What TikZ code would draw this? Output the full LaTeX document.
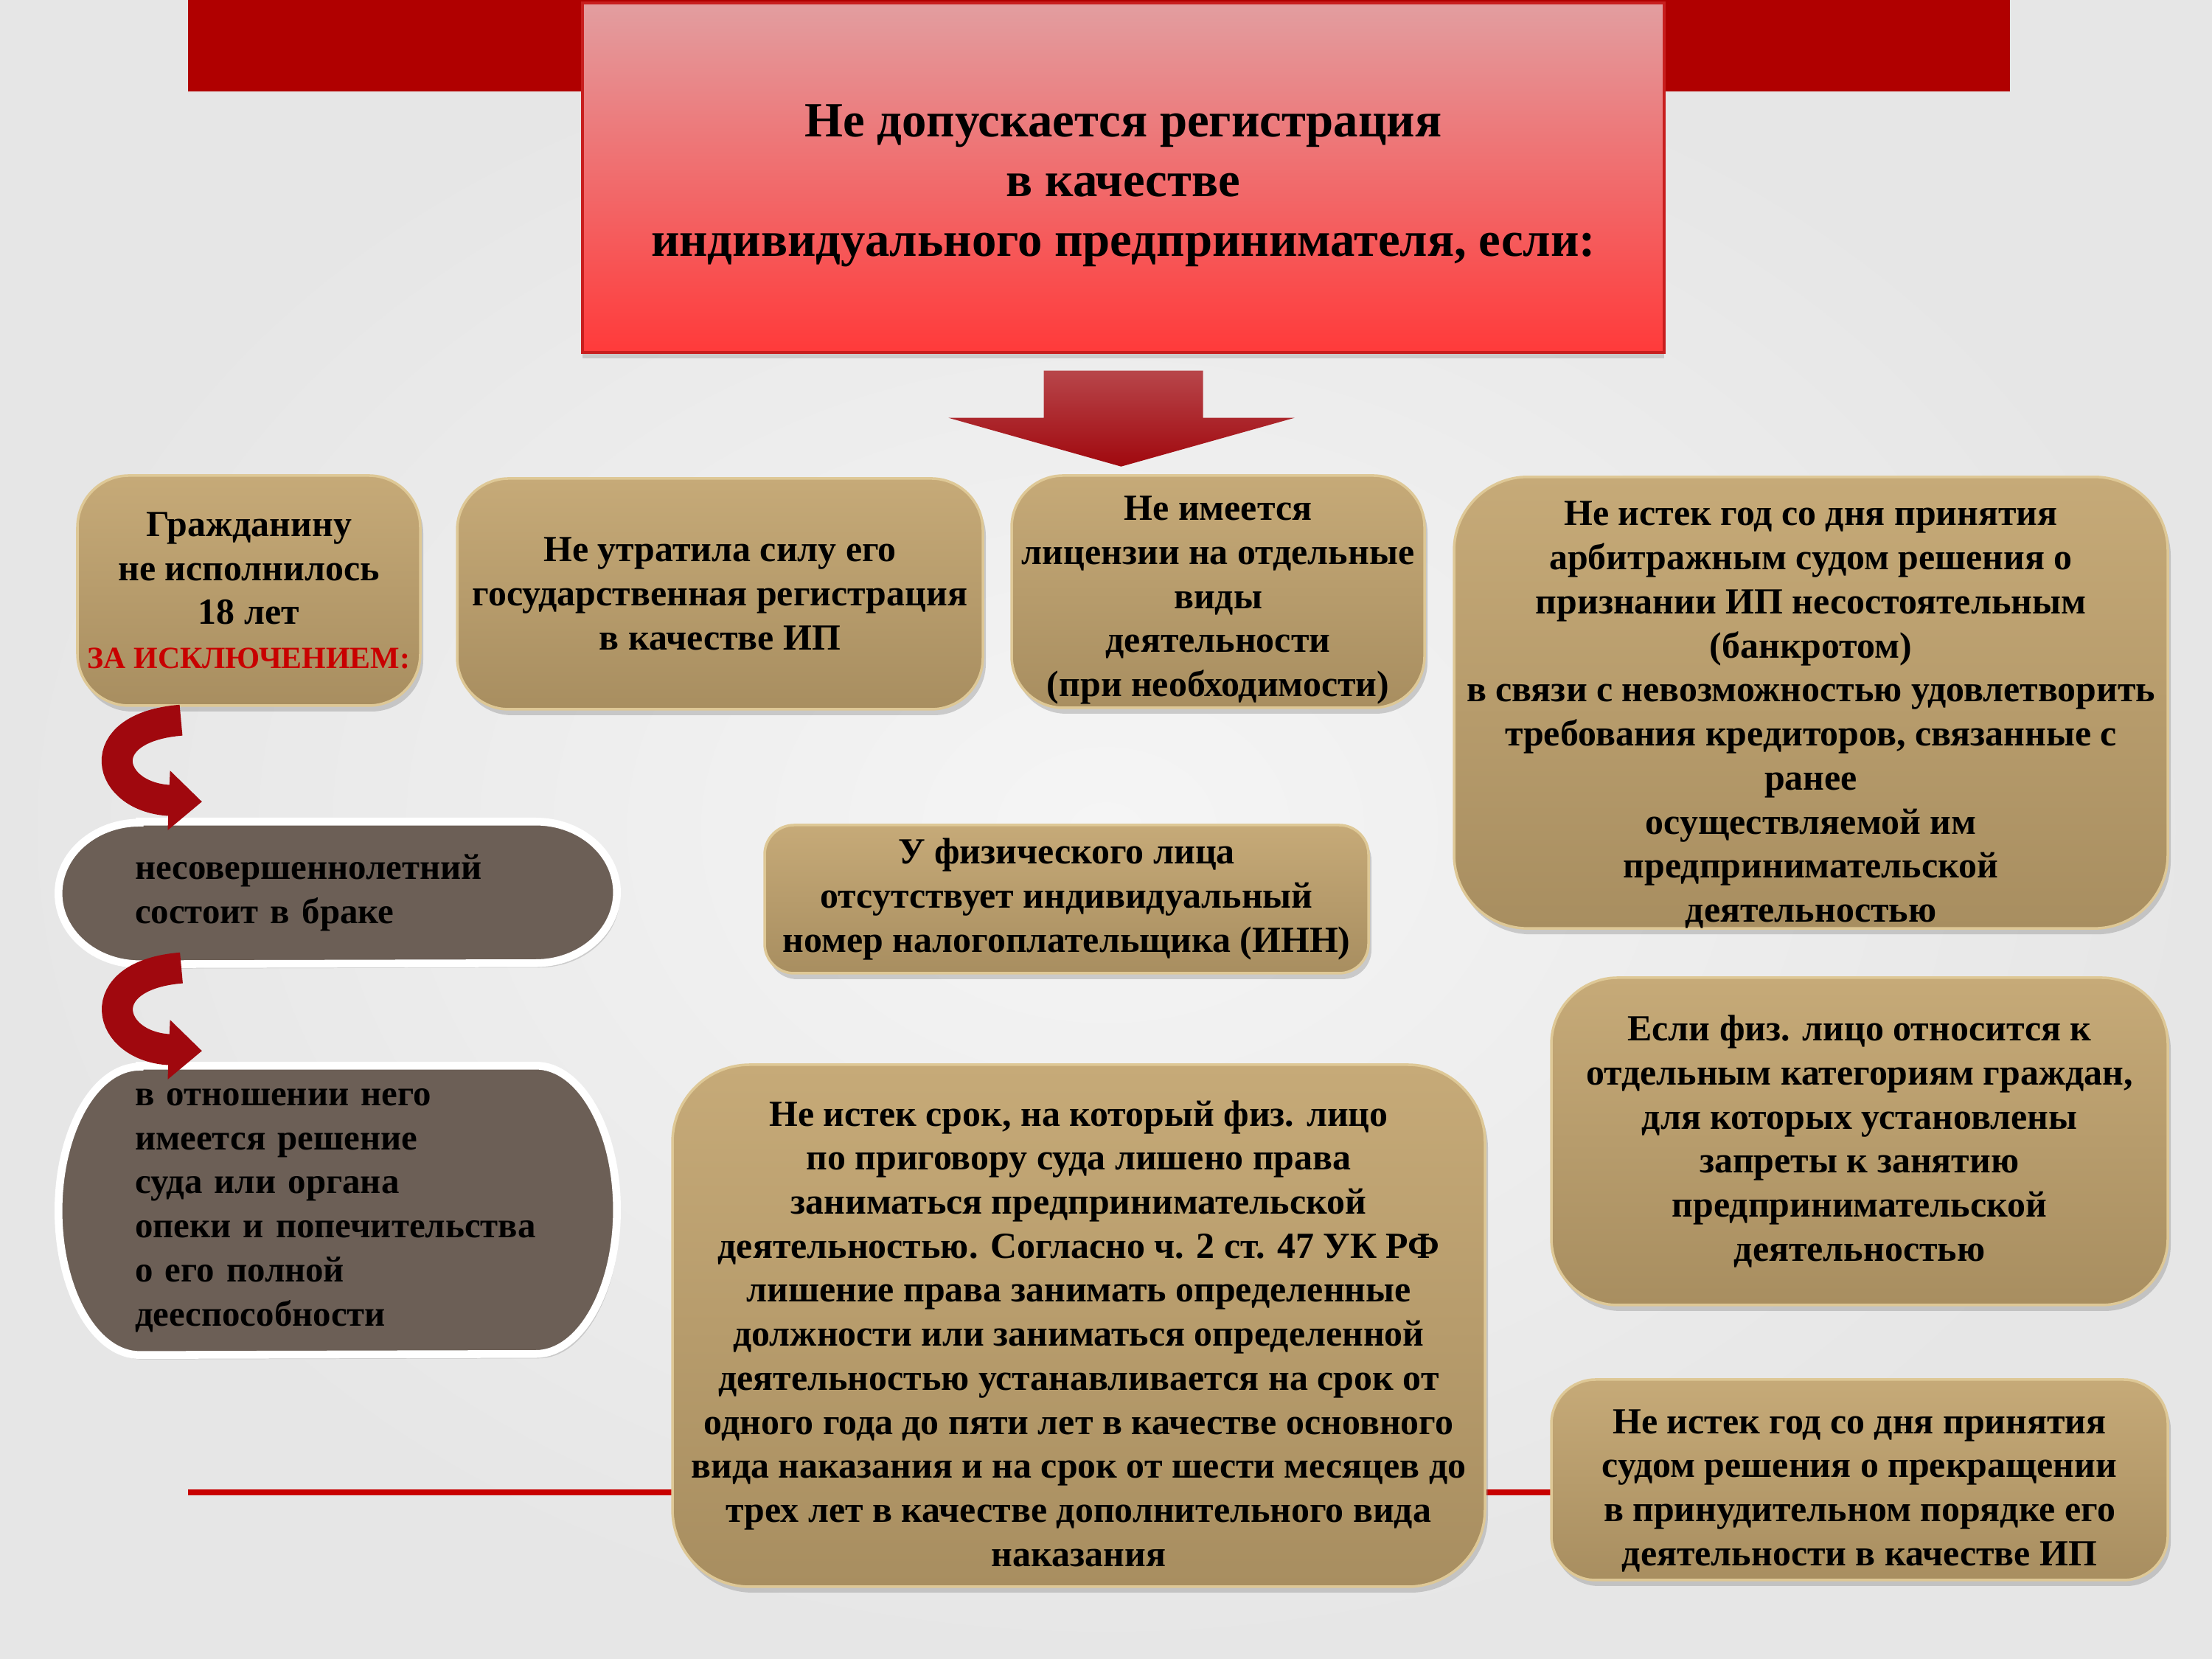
\documentclass[tikz,border=0pt]{standalone}
\usepackage{fontspec}
\setmainfont{Liberation Serif}
\usetikzlibrary{arrows.meta,shadows,backgrounds}

\definecolor{barred}{RGB}{176,0,0}
\definecolor{titletop}{RGB}{226,158,160}
\definecolor{titlebot}{RGB}{255,58,58}
\definecolor{titleedge}{RGB}{200,30,30}
\definecolor{goldtop}{RGB}{198,170,120}
\definecolor{goldbot}{RGB}{168,142,96}
\definecolor{goldedge}{RGB}{222,200,150}
\definecolor{greyfill}{RGB}{108,95,86}
\definecolor{curlred}{RGB}{160,8,14}
\definecolor{exred}{RGB}{200,0,0}
\definecolor{pagebg}{RGB}{230,230,230}
\definecolor{pagelight}{RGB}{245,245,245}

\tikzset{
  goldbox/.style={draw=goldedge, line width=1pt, top color=goldtop, bottom color=goldbot,
    rounded corners=0.7cm, align=center, inner sep=0pt,
    font=\bfseries\fontsize{14.2}{17}\selectfont,
    drop shadow={shadow xshift=0.04cm, shadow yshift=-0.08cm, opacity=0.35}},
  greytext/.style={inner sep=0pt, align=left, text width=5.5cm, minimum width=7.56cm,
    font=\bfseries\fontsize{13.9}{17}\selectfont},
  greyshape/.style={fill=greyfill, draw=white, line width=3pt,
    drop shadow={shadow xshift=0.04cm, shadow yshift=-0.06cm, opacity=0.3}},
  curl/.style={curlred, line width=0.42cm, -{Triangle[width=0.78cm,length=0.45cm]}},
}

\begin{document}
\begin{tikzpicture}
  \useasboundingbox (0,0) rectangle (30,22.5);
  \begin{scope}[on background layer]
    \shade[inner color=pagelight, outer color=pagebg] (0,0) rectangle (30,22.5);
    \fill[barred] (2.55,21.26) rectangle (27.26,22.5);
    \draw[exred, line width=2pt] (2.55,2.26) -- (27.26,2.26);
  \end{scope}

  % title
  \node[draw=titleedge, line width=1pt, top color=titletop, bottom color=titlebot,
    minimum width=14.67cm, minimum height=4.74cm, align=center,
    font=\bfseries\fontsize{19}{23}\selectfont,
    drop shadow={shadow xshift=0cm, shadow yshift=-0.08cm, opacity=0.3}]
    (title) at (15.235,20.09)
    {\rule{0pt}{0.66cm}Не допускается регистрация\\в качестве\\индивидуального предпринимателя, если:};

  \coordinate (arrtop) at ([yshift=-0.23cm]title.south);
  \shade[top color=curlred!75!white, bottom color=curlred] (arrtop) ++(-1.08,0) -- ++(2.16,0)
    -- ++(0,-0.64) -- ++(1.24,0) -- ++(-2.35,-0.66) -- ++(-2.34,0.66) -- ++(1.29,0) -- cycle;

  % upper row
  \node[goldbox, minimum width=4.65cm, minimum height=3.12cm] (age) at (3.375,14.49)
    {Гражданину\\не исполнилось\\18 лет\\{\color{exred}\fontsize{11.9}{17}\selectfont ЗА ИСКЛЮЧЕНИЕМ:}};
  \node[goldbox, minimum width=7.13cm, minimum height=3.13cm] (reg) at (9.765,14.445)
    {Не утратила силу его\\государственная регистрация\\в качестве ИП};
  \node[goldbox, minimum width=5.6cm, minimum height=3.15cm] (lic) at (16.52,14.475)
    {\rule{0pt}{0.56cm}Не имеется\\лицензии на отдельные\\виды\\деятельности\\(при необходимости)};
  \node[goldbox, rounded corners=1cm, minimum width=9.68cm, minimum height=6.08cm] (bankr) at (24.56,12.97)
    {\rule{0pt}{0.66cm}Не истек год со дня принятия\\арбитражным судом решения о\\признании ИП несостоятельным\\(банкротом)\\в связи с невозможностью удовлетворить\\требования кредиторов, связанные с\\ранее\\осуществляемой им\\предпринимательской\\деятельностью};

  % middle and lower
  \node[goldbox, rounded corners=0.4cm, minimum width=8.19cm, minimum height=2.01cm] (inn) at (14.465,10.305)
    {У физического лица\\отсутствует индивидуальный\\номер налогоплательщика (ИНН)};
  \node[goldbox, rounded corners=0.9cm, minimum width=8.36cm, minimum height=4.44cm] (categ) at (25.22,7.02)
    {Если физ. лицо относится к\\отдельным категориям граждан,\\для которых установлены\\запреты к занятию\\предпринимательской\\деятельностью};
  \node[goldbox, rounded corners=1.05cm, minimum width=11.02cm, minimum height=7.08cm] (court) at (14.63,4.52)
    {\rule{0pt}{0.56cm}Не истек срок, на который физ. лицо\\по приговору суда лишено права\\заниматься предпринимательской\\деятельностью. Согласно ч. 2 ст. 47 УК РФ\\лишение права занимать определенные\\должности или заниматься определенной\\деятельностью устанавливается на срок от\\одного года до пяти лет в качестве основного\\вида наказания и на срок от шести месяцев до\\трех лет в качестве дополнительного вида\\наказания};
  \node[goldbox, rounded corners=0.6cm, minimum width=8.36cm, minimum height=2.72cm] (stop) at (25.22,2.43)
    {\rule{0pt}{0.62cm}Не истек год со дня принятия\\судом решения о прекращении\\в принудительном порядке его\\деятельности в качестве ИП};

  % exceptions
  \node[greytext, minimum height=1.92cm] (minor) at (4.58,10.39)
    {несовершеннолетний\\состоит в браке};
  \node[greytext, minimum height=3.91cm] (incap) at (4.58,6.085)
    {в отношении него\\имеется решение\\суда или органа\\опеки и попечительства\\о его полной\\дееспособности};
  \begin{scope}[on background layer]
    \filldraw[greyshape] ([xshift=1.1cm]minor.north west) -- ([xshift=-1.1cm]minor.north east)
      arc[start angle=90, end angle=-90, x radius=1.1cm, y radius=0.96cm]
      -- ([xshift=1.1cm]minor.south west)
      arc[start angle=270, end angle=90, x radius=1.1cm, y radius=0.96cm] -- cycle;
    \filldraw[greyshape] ([xshift=1.1cm]incap.north west) -- ([xshift=-1.1cm]incap.north east)
      arc[start angle=90, end angle=-90, x radius=1.1cm, y radius=1.955cm]
      -- ([xshift=1.1cm]incap.south west)
      arc[start angle=270, end angle=90, x radius=1.1cm, y radius=1.955cm] -- cycle;
  \end{scope}

  \coordinate (c1a) at ([xshift=-0.92cm,yshift=-0.18cm]age.south);
  \coordinate (c1b) at ([xshift=-1.84cm,yshift=0.27cm]minor.north);
  \coordinate (c2a) at ([xshift=-2.12cm,yshift=-0.05cm]minor.south);
  \coordinate (c2b) at ([xshift=-1.84cm,yshift=0.2cm]incap.north);
  \draw[curl] (c1a) .. controls +(-1.25,-0.1) and +(-1.3,0.05) .. (c1b);
  \draw[curl] (c2a) .. controls +(-1.25,-0.1) and +(-1.3,0.05) .. (c2b);
\end{tikzpicture}
\end{document}
